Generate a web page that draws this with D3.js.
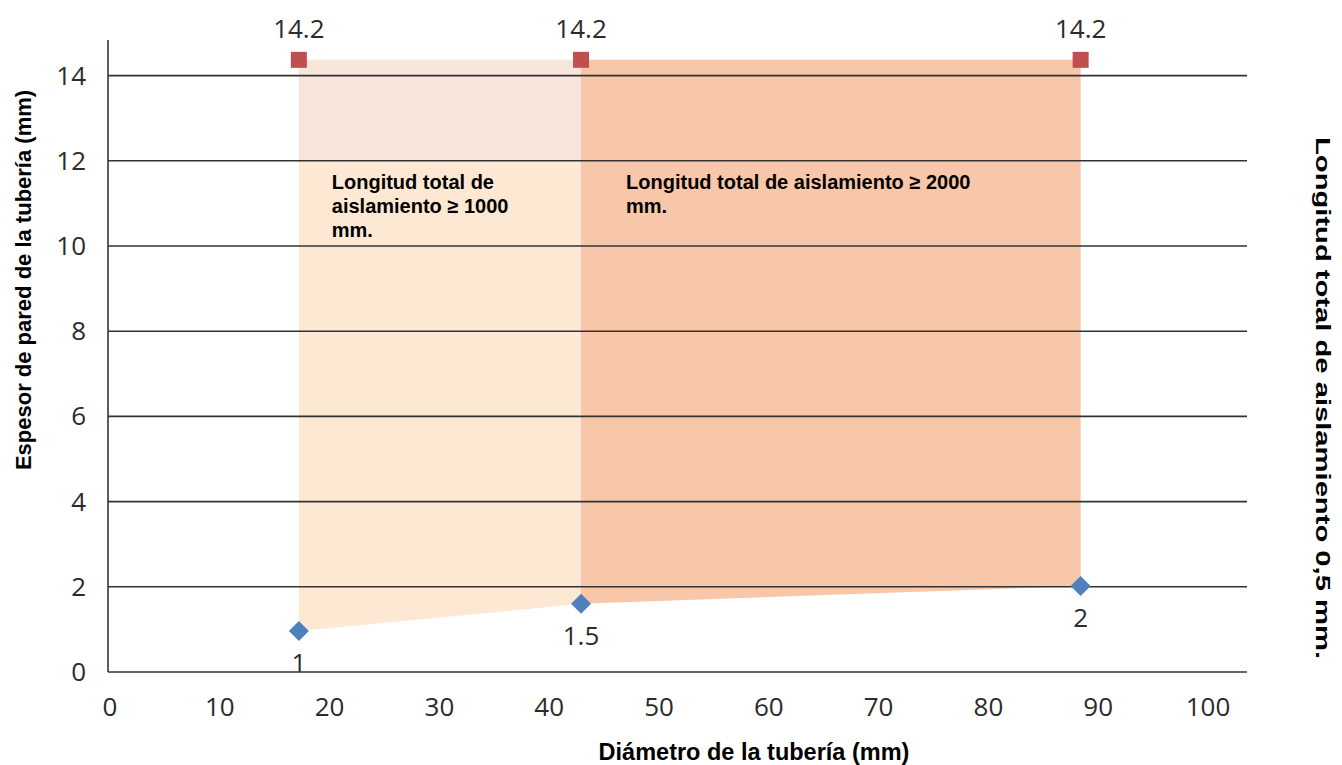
<!DOCTYPE html>
<html lang="es">
<head>
<meta charset="UTF-8">
<script src="https://d3js.org/d3.v7.min.js"></script>
<style>
  body, html { margin: 0; padding: 0; background: #fff; overflow: hidden; }
  .tick-label { font-family: "Open Sans", "Noto Sans", sans-serif; font-size: 26px; fill: #2b2b2b; }
  .title { font-family: "Liberation Sans", Arial, sans-serif; font-weight: bold; fill: #000; }
  .note { font-family: "Liberation Sans", Arial, sans-serif; font-weight: bold; font-size: 20px; fill: #000; }
</style>
</head>
<body>
<svg id="chart" width="1342" height="765"></svg>
<script>
// valores
const diametros = [17.2, 42.9, 88.4];
const espesorSup = [14.37, 14.37, 14.37];
const etiquetasSup = ["14.2", "14.2", "14.2"];
const espesorInf = [0.96, 1.6, 2.02];
const etiquetasInf = ["1", "1.5", "2"];
const ticksX = [0, 10, 20, 30, 40, 50, 60, 70, 80, 90, 100];
const ticksY = [0, 2, 4, 6, 8, 10, 12, 14];
const notas = [
  ["Longitud total de", "aislamiento \u2265 1000", "mm."],
  ["Longitud total de aislamiento \u2265 2000", "mm."]
];
const notasX = [20.2, 47.0];

const svg = d3.select("#chart");

const x = d3.scaleLinear().domain([0, 100]).range([110, 1208]);
const y = d3.scaleLinear().domain([0, 14]).range([672, 75.6]);
const xIni = 108, xFin = 1247;

const pts = diametros.map((d, i) => ({x: d, sup: espesorSup[i], inf: espesorInf[i]}));

// zona 1 (>= 1000 mm)
const area = d3.area().x(d => x(d.x)).y0(d => y(d.inf)).y1(d => y(d.sup));
svg.append("path")
  .attr("d", area(pts.slice(0, 2)))
  .attr("fill", "#fde8d3");
svg.append("rect")
  .attr("x", x(pts[0].x)).attr("y", y(pts[0].sup))
  .attr("width", x(pts[1].x) - x(pts[0].x))
  .attr("height", y(12) - y(pts[0].sup))
  .attr("fill", "#f8e6dc");

// zona 2 (>= 2000 mm)
svg.append("path")
  .attr("d", area(pts.slice(1, 3)))
  .attr("fill", "#f8c6a9");

// lineas de cuadricula
svg.append("g").selectAll("line")
  .data(ticksY)
  .join("line")
  .attr("x1", xIni).attr("x2", xFin)
  .attr("y1", d => y(d)).attr("y2", d => y(d))
  .attr("stroke", "#333").attr("stroke-width", 1.6);

svg.append("line")
  .attr("x1", xIni).attr("x2", xIni)
  .attr("y1", 40).attr("y2", y(0))
  .attr("stroke", "#333").attr("stroke-width", 1.6);

// etiquetas de ejes
svg.append("g").selectAll("text")
  .data(ticksY)
  .join("text")
  .attr("class", "tick-label")
  .attr("x", 86).attr("y", d => y(d) + 9)
  .attr("text-anchor", "end")
  .text(d => d);

svg.append("g").selectAll("text")
  .data(ticksX)
  .join("text")
  .attr("class", "tick-label")
  .attr("x", d => x(d)).attr("y", 716)
  .attr("text-anchor", "middle")
  .text(d => d);

// notas
notas.forEach((lineas, k) => {
  const t = svg.append("text").attr("class", "note");
  lineas.forEach((l, i) => {
    t.append("tspan")
      .attr("x", x(notasX[k]))
      .attr("y", 189 + i * 24)
      .text(l);
  });
});

// marcadores
svg.append("g").selectAll("rect")
  .data(pts)
  .join("rect")
  .attr("x", d => x(d.x) - 8).attr("y", d => y(d.sup) - 8)
  .attr("width", 16).attr("height", 16)
  .attr("fill", "#c0504d");

svg.append("g").selectAll("path")
  .data(pts)
  .join("path")
  .attr("d", d3.symbol().type(d3.symbolSquare).size(200))
  .attr("transform", d => `translate(${x(d.x)},${y(d.inf)}) rotate(45)`)
  .attr("fill", "#4f81bd");

svg.append("g").selectAll("text")
  .data(pts)
  .join("text")
  .attr("class", "tick-label")
  .attr("x", d => x(d.x)).attr("y", d => y(d.sup) - 22)
  .attr("text-anchor", "middle")
  .text((d, i) => etiquetasSup[i]);

svg.append("g").selectAll("text")
  .data(pts)
  .join("text")
  .attr("class", "tick-label")
  .attr("x", d => x(d.x)).attr("y", d => y(d.inf) + 41)
  .attr("text-anchor", "middle")
  .text((d, i) => etiquetasInf[i]);

// titulos
svg.append("text")
  .attr("class", "title")
  .attr("font-size", 22)
  .attr("transform", "translate(31,280) rotate(-90)")
  .attr("text-anchor", "middle")
  .text("Espesor de pared de la tubería (mm)");

svg.append("text")
  .attr("class", "title")
  .attr("font-size", 21)
  .attr("transform", "translate(1316,398) rotate(90)")
  .attr("text-anchor", "middle")
  .attr("textLength", 522)
  .attr("lengthAdjust", "spacingAndGlyphs")
  .text("Longitud total de aislamiento 0,5 mm.");

svg.append("text")
  .attr("class", "title")
  .attr("font-size", 23.5)
  .attr("x", 754).attr("y", 760)
  .attr("text-anchor", "middle")
  .text("Diámetro de la tubería (mm)");
</script>
</body>
</html>
